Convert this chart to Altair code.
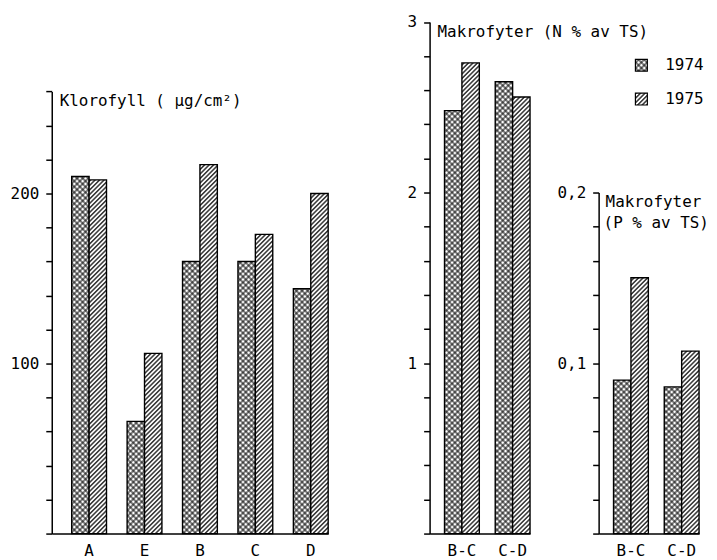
import altair as alt
import pandas as pd
import altair.utils.html as _html

FONT = "DejaVu Sans Mono"

# ---------------- data ----------------
years = ["1974", "1975"]

klor_cats = ["A", "E", "B", "C", "D"]
klor_1974 = [210, 66, 160, 160, 144]
klor_1975 = [208, 106, 217, 176, 200]

n_cats = ["B-C", "C-D"]
n_1974 = [2.48, 2.65]
n_1975 = [2.76, 2.56]

p_cats = ["B-C", "C-D"]
p_1974 = [0.090, 0.086]
p_1975 = [0.150, 0.107]

klor_ticks = list(range(0, 261, 20))
n_ticks = [round(i * 0.2, 1) for i in range(16)]
p_ticks = [round(i * 0.02, 2) for i in range(11)]

klor_title = ["Klorofyll ( µg/cm²)"]
n_title = ["Makrofyter (N % av TS)"]
p_title = ["Makrofyter", "(P % av TS)"]

# ---------------- hatch patterns (SVG defs added to the page) ----------------
PATTERN_DEFS = (
    '<svg width="0" height="0" style="position:absolute;left:0;top:0">'
    '<defs>'
    '<pattern id="h74" patternUnits="userSpaceOnUse" width="4" height="4" '
    'patternTransform="rotate(45)">'
    '<rect width="4" height="4" fill="white"/>'
    '<path d="M0,2 H4 M2,0 V4" stroke="black" stroke-width="1.0"/>'
    '</pattern>'
    '<pattern id="h75" patternUnits="userSpaceOnUse" width="3.2" height="3.2" '
    'patternTransform="rotate(45)">'
    '<rect width="3.2" height="3.2" fill="white"/>'
    '<path d="M1.6,0 V3.2" stroke="black" stroke-width="1.2"/>'
    '</pattern>'
    '</defs></svg>'
)

_orig_standard = _html.TEMPLATES["standard"]


class _WithPatterns:
    def render(self, **kwargs):
        page = _orig_standard.render(**kwargs)
        i = page.find("<div id=")
        if i < 0:
            return page
        return page[:i] + PATTERN_DEFS + page[i:]


_html.TEMPLATES["standard"] = _WithPatterns()

FILLS = ["url(#h74) #7a7a7a", "url(#h75) #9a9a9a"]

PLOT_H = 527


def long_df(cats, v74, v75):
    rows = []
    for c, a, b in zip(cats, v74, v75):
        rows.append({"cat": c, "year": "1974", "value": a})
        rows.append({"cat": c, "year": "1975", "value": b})
    return pd.DataFrame(rows)


legend = alt.Legend(
    title=None,
    orient="none",
    legendX=585,
    legendY=48,
    symbolType="square",
    symbolSize=144,
    symbolStrokeColor="black",
    symbolStrokeWidth=1.2,
    labelFont=FONT,
    labelFontSize=16,
    labelColor="black",
    labelOffset=16,
    rowPadding=16,
    padding=0,
)


def panel(df, cats, ydom, yrange, yvals, label_expr, xrange, pi, po, width, texts):
    yscale = alt.Scale(domain=ydom, range=yrange, nice=False, zero=True)
    bars = alt.Chart(df).mark_bar(stroke="black", strokeWidth=1.4).encode(
        x=alt.X(
            "cat:N",
            sort=cats,
            scale=alt.Scale(domain=cats, range=xrange, paddingInner=pi,
                            paddingOuter=po, align=1),
            axis=alt.Axis(title=None, labelAngle=0, ticks=False,
                          domainColor="black", domainWidth=1.5,
                          labelPadding=9, labelFontSize=16),
        ),
        xOffset=alt.XOffset("year:N", sort=years,
                            scale=alt.Scale(paddingInner=0, paddingOuter=0)),
        y=alt.Y(
            "value:Q",
            scale=yscale,
            axis=alt.Axis(title=None, values=yvals, labelExpr=label_expr,
                          grid=False, domain=True, domainColor="black",
                          domainWidth=1.5, tickSize=6, tickWidth=1.5,
                          tickColor="black", labelPadding=7, labelFontSize=16),
        ),
        fill=alt.Fill("year:N", scale=alt.Scale(domain=years, range=FILLS),
                      legend=legend),
    )
    layers = [bars]
    for txt, tx, ty in texts:
        layers.append(
            alt.Chart(pd.DataFrame({"t": [txt]})).mark_text(
                align="left", baseline="alphabetic", font=FONT,
                fontSize=16, color="black",
            ).encode(x=alt.value(tx), y=alt.value(ty), text="t:N")
        )
    return alt.layer(*layers).properties(width=width, height=PLOT_H)


left = panel(
    long_df(klor_cats, klor_1974, klor_1975), klor_cats,
    [0, klor_ticks[-1]], [PLOT_H, 82.4], klor_ticks,
    "datum.value == 100 || datum.value == 200 ? '' + datum.value : ''",
    [0, 278], 0.372, 0.18, 380,
    [(klor_title[0], 8, 97)],
)

mid = panel(
    long_df(n_cats, n_1974, n_1975), n_cats,
    [0, n_ticks[-1]], [PLOT_H, 12.5], n_ticks,
    "(datum.value > 0.5 && abs(datum.value - round(datum.value)) < 0.001) ? format(datum.value, 'd') : ''",
    [0, 101], 0.314, 0.147, 170,
    [(n_title[0], 8, 28)],
)

right = panel(
    long_df(p_cats, p_1974, p_1975), p_cats,
    [0, p_ticks[-1]], [PLOT_H, 184], p_ticks,
    "abs(datum.value - 0.1) < 0.001 ? '0,1' : (abs(datum.value - 0.2) < 0.001 ? '0,2' : '')",
    [0, 101], 0.314, 0.147, 101,
    [(p_title[0], 7, 199), (p_title[1], 5, 220)],
)

chart = (
    alt.hconcat(left, mid, right, spacing=0, bounds="flush")
    .properties(padding={"left": 2, "top": 0, "right": 0, "bottom": 0},
                background="white")
    .configure_view(stroke=None, strokeWidth=0)
    .configure_axis(labelFont=FONT, labelColor="black")
    .configure_legend(labelFont=FONT)
)

chart.save("out.html", embed_options={"renderer": "svg", "actions": False})
